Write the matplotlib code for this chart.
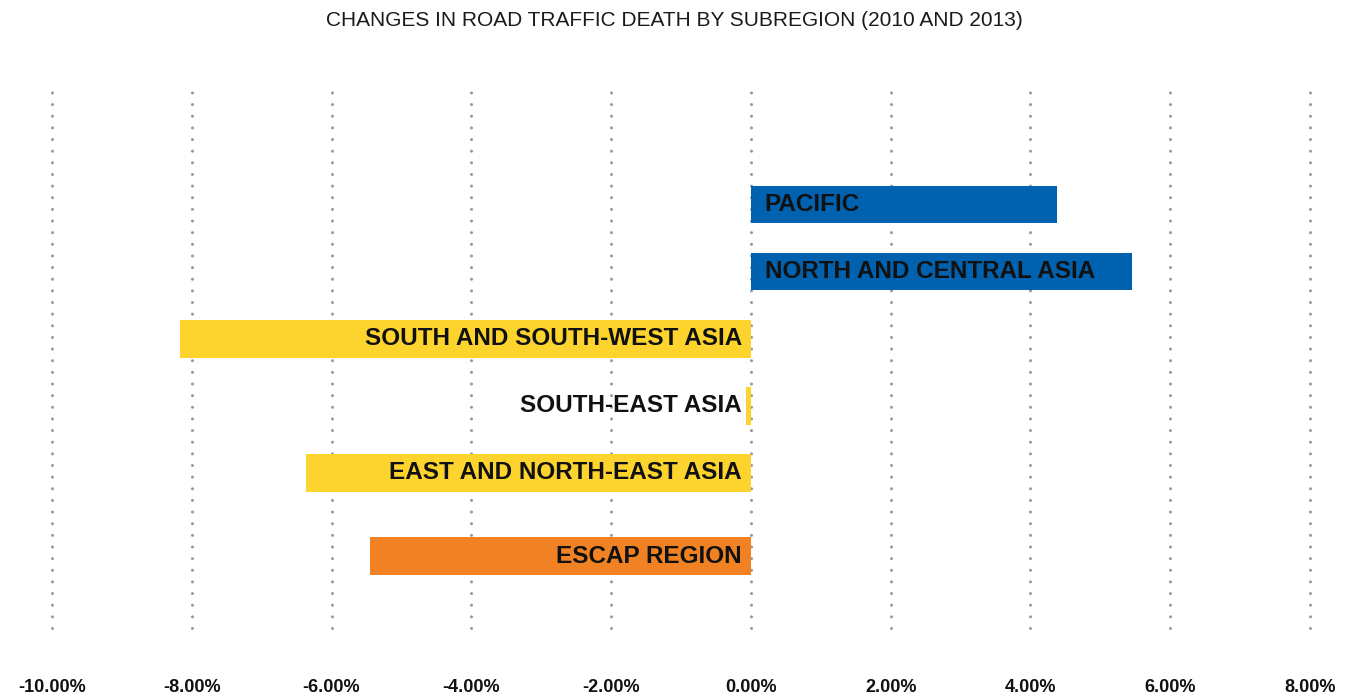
import matplotlib
matplotlib.use('Agg')
import matplotlib.pyplot as plt
import numpy as np

# Chart data (percent change 2010 -> 2013)
regions = ['PACIFIC', 'NORTH AND CENTRAL ASIA', 'SOUTH AND SOUTH-WEST ASIA',
           'SOUTH-EAST ASIA', 'EAST AND NORTH-EAST ASIA', 'ESCAP REGION']
changes = [4.38, 5.45, -8.17, -0.07, -6.37, -5.45]
colors = ['#0061AF', '#0061AF', '#FDD42E', '#FDD42E', '#FDD42E', '#F08223']
x_ticks = [-10, -8, -6, -4, -2, 0, 2, 4, 6, 8]

title = 'CHANGES IN ROAD TRAFFIC DEATH BY SUBREGION (2010 AND 2013)'

plt.rcParams['font.family'] = ['Liberation Sans', 'DejaVu Sans']

fig = plt.figure(figsize=(13.48, 6.97), dpi=100)
ax = fig.add_axes([52 / 1348, 1 - 628 / 697, (1310 - 52) / 1348, (628 - 85) / 697])

# Row positions: ESCAP region sits a bit further down
y_pos = np.arange(len(regions), dtype=float)
y_pos[-1] += 0.24

# Dotted vertical gridlines
for t in x_ticks:
    ax.axvline(t, color='#929aa4', linestyle=(0, (0.01, 3.8)), linewidth=2.2,
               dash_capstyle='round', zorder=0, clip_on=False)

ax.barh(y_pos, changes, height=0.56, color=colors, zorder=2)

# Labels inside bars
for y, v, name in zip(y_pos, changes, regions):
    if v >= 0:
        ax.text(0.2, y, name, ha='left', va='center', fontsize=17.5,
                fontweight='bold', color='#111111', zorder=3)
    else:
        ax.text(-0.13, y, name, ha='right', va='center', fontsize=17.5,
                fontweight='bold', color='#111111', zorder=3)

ax.set_xlim(-10, 8)
ax.set_ylim(6.31, -1.78)
ax.set_xticks(x_ticks)
ax.set_xticklabels(['%.2f%%' % t for t in x_ticks], fontsize=13,
                   fontweight='bold', color='#111111')
ax.tick_params(axis='x', length=0, pad=37)
ax.set_yticks([])
for s in ax.spines.values():
    s.set_visible(False)

fig.text(0.5, 1 - 21 / 697, title, ha='center', va='center', fontsize=15,
         color='#1a1a1a')

plt.savefig('out.png', dpi=100)
